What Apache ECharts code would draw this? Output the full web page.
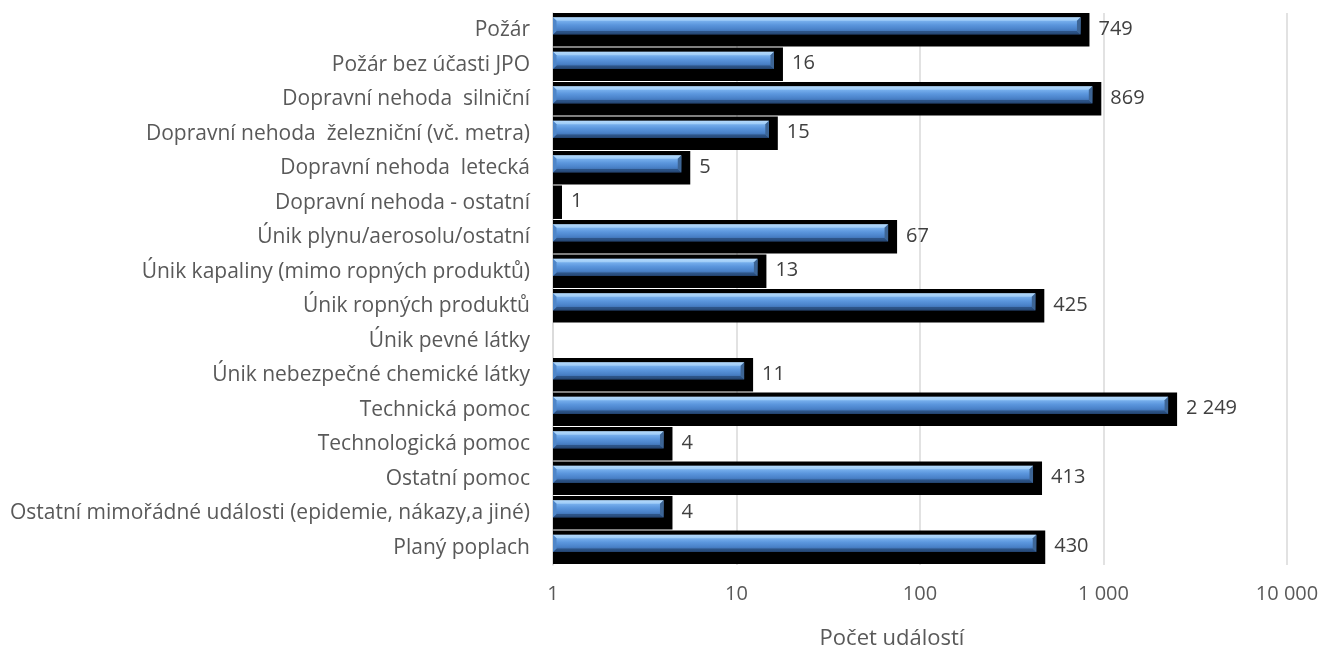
<!DOCTYPE html>
<html>
<head>
<meta charset="utf-8">
<script src="https://cdn.jsdelivr.net/npm/echarts@6/dist/echarts.min.js"></script>
<style>
html,body{margin:0;padding:0;background:#fff;}
#chart{width:1333px;height:648px;}
</style>
</head>
<body>
<div id="chart"></div>
<script>
const categories = [
  'Požár',
  'Požár bez účasti JPO',
  'Dopravní nehoda  silniční',
  'Dopravní nehoda  železniční (vč. metra)',
  'Dopravní nehoda  letecká',
  'Dopravní nehoda - ostatní',
  'Únik plynu/aerosolu/ostatní',
  'Únik kapaliny (mimo ropných produktů)',
  'Únik ropných produktů',
  'Únik pevné látky',
  'Únik nebezpečné chemické látky',
  'Technická pomoc',
  'Technologická pomoc',
  'Ostatní pomoc',
  'Ostatní mimořádné události (epidemie, nákazy,a jiné)',
  'Planý poplach'
];
const counts = [749, 16, 869, 15, 5, 1, 67, 13, 425, null, 11, 2249, 4, 413, 4, 430];
const xTicks = [1, 10, 100, 1000, 10000];
const axisTitle = 'Počet událostí';

const FONT = '"Open Sans", sans-serif';
function fmt(v) { return String(v).replace(/\B(?=(\d{3})+(?!\d))/g, ' '); }

const data = [];
counts.forEach((v, i) => { if (v != null) data.push([v, i]); });

function renderItem(params, api) {
  const v = api.value(0);
  const idx = api.value(1);
  const start = api.coord([xTicks[0], idx]);
  const end = api.coord([v, idx]);
  const bw = api.size([0, 1])[1];
  const top = start[1] - bw / 2;
  const x0 = start[0];
  const x1 = end[0];
  const shadowExt = 9;
  const children = [];
  children.push({
    type: 'rect',
    shape: { x: x0, y: top, width: (x1 - x0) + shadowExt, height: bw * 0.97 },
    style: { fill: '#000000' }
  });
  if (x1 - x0 > 1) {
    const by0 = top + bw * 0.12;
    const bh = bw * 0.50;
    const by1 = by0 + bh;
    const b = 3.5;
    children.push({
      type: 'rect',
      shape: { x: x0, y: by0, width: x1 - x0, height: bh },
      style: {
        fill: new echarts.graphic.LinearGradient(0, 0, 0, 1, [
          { offset: 0, color: '#a9d0f7' },
          { offset: 0.2, color: '#79b1ee' },
          { offset: 0.45, color: '#5b96dd' },
          { offset: 0.7, color: '#4a82c9' },
          { offset: 0.9, color: '#3b6aa8' },
          { offset: 1, color: '#2a4a78' }
        ])
      }
    });
    children.push({
      type: 'polygon',
      shape: { points: [[x0, by0], [x1, by0], [x1 - b, by0 + b], [x0 + b, by0 + b]] },
      style: { fill: 'rgba(190,225,255,0.55)' }
    });
    children.push({
      type: 'polygon',
      shape: { points: [[x0 + b, by1 - b], [x1 - b, by1 - b], [x1, by1], [x0, by1]] },
      style: { fill: 'rgba(30,60,100,0.55)' }
    });
    children.push({
      type: 'polygon',
      shape: { points: [[x1, by0], [x1, by1], [x1 - b, by1 - b], [x1 - b, by0 + b]] },
      style: { fill: '#3d6595' }
    });
    children.push({
      type: 'polygon',
      shape: { points: [[x0, by0], [x0 + b, by0 + b], [x0 + b, by1 - b], [x0, by1]] },
      style: { fill: '#4f86c8' }
    });
  }
  children.push({
    type: 'text',
    style: {
      text: fmt(v),
      x: x1 + shadowExt + 9,
      y: top + bw * 0.47,
      verticalAlign: 'middle',
      align: 'left',
      fill: '#404040',
      font: '20px ' + FONT
    }
  });
  return { type: 'group', children: children };
}

const chart = echarts.init(document.getElementById('chart'));
chart.setOption({
  animation: false,
  backgroundColor: '#ffffff',
  grid: { left: 553, right: 46, top: 13, bottom: 83, containLabel: false, outerBoundsMode: 'none' },
  xAxis: {
    type: 'log',
    logBase: 10,
    min: 1,
    max: 10000,
    name: axisTitle,
    nameLocation: 'middle',
    nameGap: 63,
    nameTextStyle: { color: '#595959', fontSize: 22, fontFamily: FONT, padding: [0, 56, 0, 0] },
    axisLine: { show: false },
    axisTick: { show: false },
    axisLabel: { color: '#595959', fontSize: 20, fontFamily: FONT, margin: 19, formatter: fmt },
    splitLine: { show: true, lineStyle: { color: '#d9d9d9', width: 1.5 } }
  },
  yAxis: {
    type: 'category',
    data: categories,
    inverse: true,
    axisLine: { show: true, lineStyle: { color: '#d9d9d9', width: 1.5 } },
    axisTick: { show: false },
    axisLabel: { color: '#595959', fontSize: 21, fontFamily: FONT, margin: 23 }
  },
  series: [{
    type: 'custom',
    renderItem: renderItem,
    encode: { x: 0, y: 1 },
    clip: false,
    data: data
  }]
});
</script>
</body>
</html>
